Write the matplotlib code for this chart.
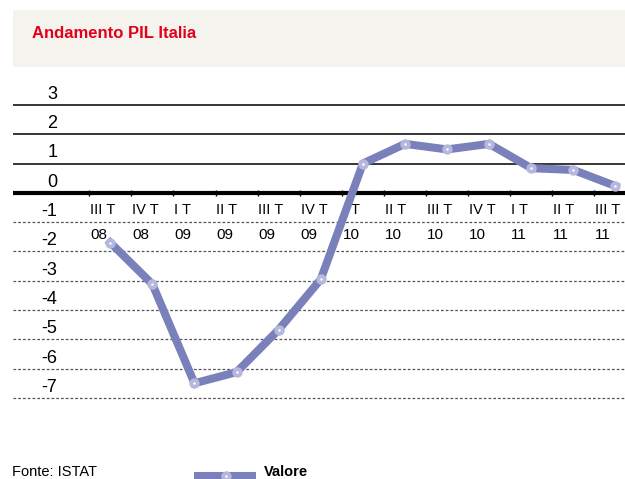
import matplotlib
matplotlib.use("Agg")
import matplotlib.pyplot as plt
from matplotlib.patches import Rectangle

# ---- data ----
quarters = ["III T", "IV T", "I T", "II T", "III T", "IV T", "I T",
            "II T", "III T", "IV T", "I T", "II T", "III T"]
years = ["08", "08", "09", "09", "09", "09", "10",
         "10", "10", "10", "11", "11", "11"]
values = [-1.7, -3.12, -6.5, -6.12, -4.67, -2.95, 1.0,
          1.67, 1.48, 1.67, 0.84, 0.78, 0.23]
y_ticks = [3, 2, 1, 0, -1, -2, -3, -4, -5, -6, -7]
title = "Andamento PIL Italia"
source = "Fonte: ISTAT"
series_name = "Valore"

FONT = ["Liberation Sans", "DejaVu Sans"]

# ---- layout ----
W, H = 625, 479
fig = plt.figure(figsize=(W / 100, H / 100), dpi=100)
fig.patch.set_facecolor("white")

def fx(px):
    return px / W

def fy(py):
    return 1 - py / H

# title band
fig.patches.append(Rectangle((fx(13), fy(67)), fx(625) - fx(13), (67 - 10) / H,
                             transform=fig.transFigure, facecolor="#F4F3EE",
                             edgecolor="none", zorder=0))
fig.text(fx(32), fy(33.5), title, color="#E2001A", fontsize=12,
         fontweight="bold", family=FONT, ha="left", va="center")

# axes mapping: category center px = c0 + step*i ; value px = z0 - u*v
c0, step = 110.3, 42.1
z0, u = 192.8, 29.3
ax_top, ax_bot, ax_left, ax_right = 75, 420, 13, 625
ax = fig.add_axes([fx(ax_left), fy(ax_bot), fx(ax_right) - fx(ax_left),
                   (ax_bot - ax_top) / H])
ax.set_xlim((ax_left - c0) / step, (ax_right - c0) / step)
ax.set_ylim((z0 - ax_bot) / u, (z0 - ax_top) / u)
ax.axis("off")

# gridlines
for v in y_ticks:
    if v > 0:
        ax.axhline(v, color="black", lw=1.1, zorder=1)
    elif v == 0:
        ax.axhline(v, color="black", lw=3.0, zorder=2)
    else:
        ax.axhline(v, color="#555555", lw=0.9, ls=(0, (2.2, 1.6)), zorder=1)
    ax.text((57.5 - c0) / step, v + 0.36, str(v), ha="right", va="center",
            fontsize=13, family=FONT, zorder=3)

# x ticks and labels
n = len(values)
for i in range(n):
    b = i - 0.5
    ax.plot([b, b], [0.1, -0.12], color="black", lw=1.0, zorder=2,
            solid_capstyle="butt")
    ax.text(b + 0.02, -0.6, quarters[i], ha="left", va="center",
            fontsize=10.5, family=FONT, zorder=3)
    ax.text(b + 0.02, -1.45, years[i], ha="left", va="center",
            fontsize=11, family=FONT, zorder=3)

xs = list(range(n))
line_color = "#7A80BA"
ax.plot(xs, values, color=line_color, lw=5.8, zorder=4, solid_joinstyle="miter")
ax.plot(xs, values, ls="none", marker="o", ms=7.5, mfc="#B5B8DC", mec="none", zorder=5)
ax.plot(xs, values, ls="none", marker="o", ms=1.8, mfc="white", mec="none", zorder=6)

# footer
fig.text(fx(12), fy(472), source, fontsize=10.5, ha="left", va="center",
         family=FONT)
lax = fig.add_axes([0, 0, 1, 1], facecolor="none")
lax.set_xlim(0, W)
lax.set_ylim(H, 0)
lax.axis("off")
lax.plot([194, 256], [476, 476], color=line_color, lw=5.8, solid_capstyle="butt")
lax.plot([226], [476], ls="none", marker="o", ms=7.5, mfc="#B5B8DC", mec="none")
lax.plot([226], [476], ls="none", marker="o", ms=1.8, mfc="white", mec="none")
fig.text(fx(264), fy(472), series_name, fontsize=10.5, fontweight="bold",
         ha="left", va="center", family=FONT)

fig.savefig("out.png", dpi=100, facecolor="white")
